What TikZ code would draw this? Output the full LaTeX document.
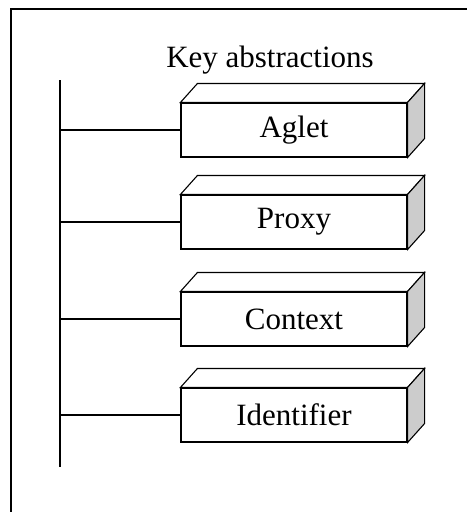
\documentclass[tikz,border=0pt]{standalone}
\usepackage{fontspec}
\setmainfont{Liberation Serif}
\usetikzlibrary{calc}
\tikzset{
  abstraction/.style={draw, fill=white, minimum width=226pt, minimum height=54pt, inner sep=0pt, font=\fontsize{31}{37}\selectfont},
  sideface/.style={draw, fill=gray!40},
  topface/.style={draw, fill=white},
}

\begin{document}
\begin{tikzpicture}[x=1pt,y=-1pt,line width=1.1pt]
\useasboundingbox (0,0) rectangle (467,512);
% Draw frame
\draw (11,512) -- (11,9) -- (467,9);
% Draw title
\node[anchor=base, font=\fontsize{31}{37}\selectfont] (title) at (270,67) {Key abstractions};
% Draw spine
\coordinate (spinetop) at (60,80);
\coordinate (spinebottom) at (60,467);
\draw (spinetop) -- (spinebottom);
% Draw boxes
\node[abstraction] (aglet) at (294,130) {Aglet};
\node[abstraction] (proxy) at (294,222) {Proxy};
\node[abstraction] (context) at (294,319) {Context};
\node[abstraction] (identifier) at (294,415) {Identifier};
% Draw depth and branches
\foreach \b in {aglet,proxy,context,identifier} {
  \draw[topface] (\b.north west) -- ++(17,-19) -- ($(\b.north east)+(17,-19)$) -- (\b.north east) -- cycle;
  \draw[sideface] (\b.north east) -- ++(17,-19) -- ($(\b.south east)+(17,-19)$) -- (\b.south east) -- cycle;
  \draw (\b.west) -- (\b.west -| spinetop);
}
\end{tikzpicture}
\end{document}
